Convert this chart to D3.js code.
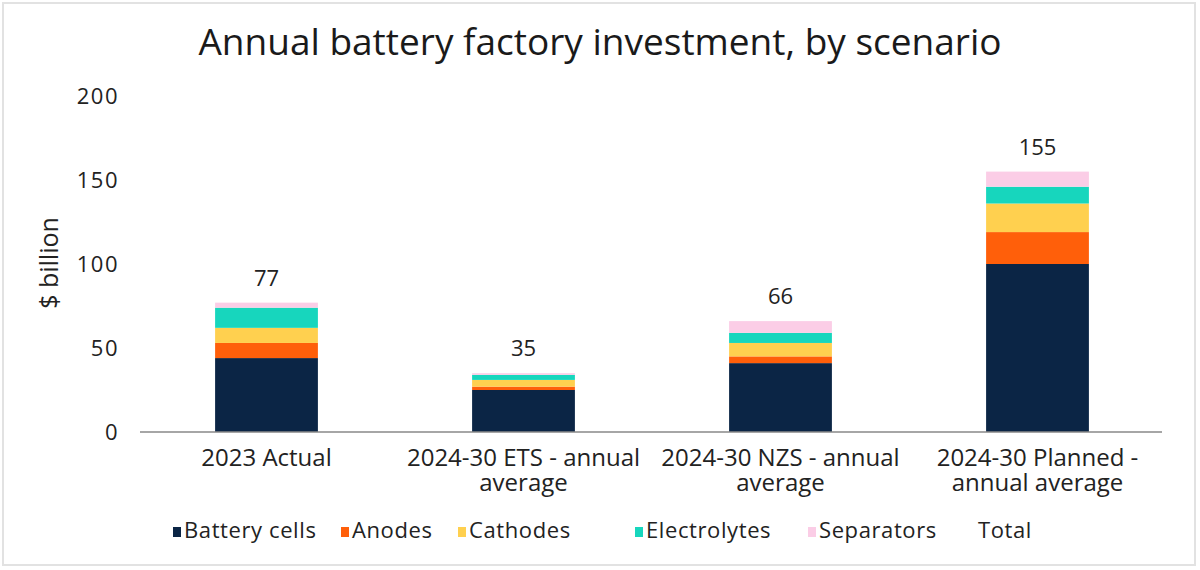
<!DOCTYPE html>
<html>
<head>
<meta charset="utf-8">
<script src="https://cdn.jsdelivr.net/npm/d3@7"></script>
<style>
  body { margin: 0; background: #fff; }
  svg { display: block; font-family: "Open Sans", sans-serif; }
</style>
</head>
<body>
<svg id="chart" width="1200" height="570"></svg>
<script>
// chart data
const categories = [
  ["2023 Actual"],
  ["2024-30 ETS - annual", "average"],
  ["2024-30 NZS - annual", "average"],
  ["2024-30 Planned -", "annual average"]
];
const seriesNames = ["Battery cells", "Anodes", "Cathodes", "Electrolytes", "Separators"];
const batteryCells = [44, 25, 41, 100];
const anodes = [9, 2, 4, 19];
const cathodes = [9, 4, 8, 17];
const electrolytes = [12, 3, 6, 10];
const separators = [3, 1, 7, 9];
const totals = [77, 35, 66, 155];
const yTicks = [0, 50, 100, 150, 200];

const colors = ["#0b2545", "#ff5f0a", "#ffd04f", "#17d6bd", "#fbcde6"];

const svg = d3.select("#chart");

// light frame round the picture
svg.append("rect")
  .attr("x", 3).attr("y", 3).attr("width", 1192).attr("height", 562)
  .attr("fill", "#fff").attr("stroke", "#e2e2e2").attr("stroke-width", 2);

const margin = { left: 138, right: 34, top: 96, bottom: 138 };
const W = 1200, H = 570;

const rows = categories.map((c, i) => ({
  key: i,
  "Battery cells": batteryCells[i],
  "Anodes": anodes[i],
  "Cathodes": cathodes[i],
  "Electrolytes": electrolytes[i],
  "Separators": separators[i]
}));
const stacked = d3.stack().keys(seriesNames)(rows);

const x = d3.scaleBand()
  .domain(categories.map((c, i) => i))
  .range([margin.left, W - margin.right])
  .paddingInner(0.6)
  .paddingOuter(0.3);

const y = d3.scaleLinear()
  .domain([0, 200])
  .range([H - margin.bottom, margin.top]);

// title
svg.append("text")
  .attr("x", 600).attr("y", 55)
  .attr("text-anchor", "middle")
  .attr("font-size", 37)
  .attr("fill", "#1a1a1a")
  .text("Annual battery factory investment, by scenario");

// y axis labels only
svg.append("g")
  .selectAll("text")
  .data(yTicks)
  .join("text")
    .attr("x", 119)
    .attr("y", d => y(d))
    .attr("dy", "0.35em")
    .attr("text-anchor", "end")
    .attr("font-size", 22)
    .attr("letter-spacing", 1.5)
    .attr("fill", "#222")
    .text(d => d);

svg.append("text")
  .attr("transform", `translate(58, ${y(100) - 1}) rotate(-90)`)
  .attr("text-anchor", "middle")
  .attr("font-size", 25)
  .attr("fill", "#222")
  .text("$ billion");

// bars
svg.append("g")
  .selectAll("g")
  .data(stacked)
  .join("g")
    .attr("fill", (d, i) => colors[i])
  .selectAll("rect")
  .data(d => d)
  .join("rect")
    .attr("x", d => x(d.data.key))
    .attr("width", x.bandwidth())
    .attr("y", d => y(d[1]))
    .attr("height", d => y(d[0]) - y(d[1]));

// x axis line
svg.append("line")
  .attr("x1", x.range()[0] + 2).attr("x2", x.range()[1] - 4)
  .attr("y1", y(0)).attr("y2", y(0))
  .attr("stroke", "#888").attr("stroke-width", 1.3);

// totals above bars
svg.append("g")
  .selectAll("text")
  .data(totals)
  .join("text")
    .attr("x", (d, i) => x(i) + x.bandwidth() / 2)
    .attr("y", d => y(d) - 17)
    .attr("text-anchor", "middle")
    .attr("font-size", 22)
    .attr("fill", "#222")
    .text(d => d);

// category labels
const catG = svg.append("g")
  .selectAll("text")
  .data(categories)
  .join("text")
    .attr("x", (d, i) => x(i) + x.bandwidth() / 2)
    .attr("y", 466)
    .attr("text-anchor", "middle")
    .attr("font-size", 24)
    .attr("fill", "#222");
catG.selectAll("tspan")
  .data(d => d)
  .join("tspan")
    .attr("x", function () { return this.parentNode.getAttribute("x"); })
    .attr("dy", (d, i) => i ? 25 : 0)
    .text(d => d);

// legend
const legendItems = seriesNames.map((n, i) => ({ name: n, color: colors[i] })).concat([{ name: "Total", color: null }]);
const legendX = [173, 341, 458, 635, 808, 978];
const leg = svg.append("g")
  .selectAll("g")
  .data(legendItems)
  .join("g")
    .attr("transform", (d, i) => `translate(${legendX[i]}, 538)`);
leg.filter(d => d.color)
  .append("rect")
    .attr("x", 0).attr("y", -11).attr("width", 8).attr("height", 10)
    .attr("fill", d => d.color);
leg.append("text")
  .attr("x", d => d.color ? 11 : 0)
  .attr("font-size", 22)
  .attr("letter-spacing", 0.6)
  .attr("fill", "#222")
  .text(d => d.name);
</script>
</body>
</html>
